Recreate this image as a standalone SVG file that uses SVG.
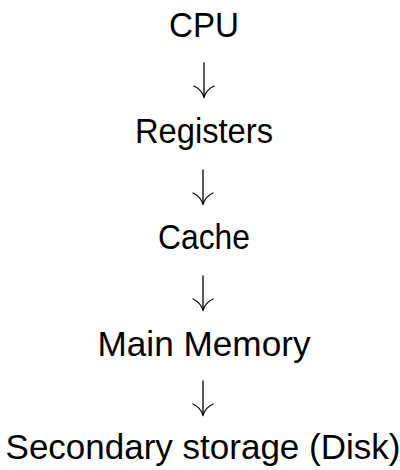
<svg xmlns="http://www.w3.org/2000/svg" width="400" height="470" viewBox="0 0 400 470">
  <style>
    .label { font-family: "Liberation Sans", Arial, sans-serif; font-size: 35px; fill: #000; text-anchor: middle; }
    .arrow { fill: none; stroke: #000; stroke-width: 1.3; stroke-linecap: round; }
  </style>
  <defs>
    <!-- downward arrow with curved barbs, tip at (0,0) -->
    <g id="down">
      <line class="arrow" x1="0" y1="-34" x2="0" y2="0"/>
      <path class="arrow" d="M-10,-11 Q-3,-8 0,0 Q3,-8 10,-11"/>
    </g>
  </defs>
  <rect width="400" height="470" fill="#fff"/>

  <g id="cpu"><text class="label" x="204" y="37" textLength="70" lengthAdjust="spacingAndGlyphs">CPU</text></g>
  <g id="registers"><text class="label" x="204" y="143" textLength="138" lengthAdjust="spacingAndGlyphs">Registers</text></g>
  <g id="cache"><text class="label" x="204" y="249" textLength="92" lengthAdjust="spacingAndGlyphs">Cache</text></g>
  <g id="main-memory"><text class="label" x="204" y="356" textLength="213" lengthAdjust="spacingAndGlyphs">Main Memory</text></g>
  <g id="secondary-storage"><text class="label" x="203" y="459" font-size="34">Secondary storage (Disk)</text></g>

  <g id="connectors">
    <use href="#down" x="204" y="97"/>
    <use href="#down" x="203" y="204"/>
    <use href="#down" x="203" y="310"/>
    <use href="#down" x="203" y="415"/>
  </g>
</svg>
